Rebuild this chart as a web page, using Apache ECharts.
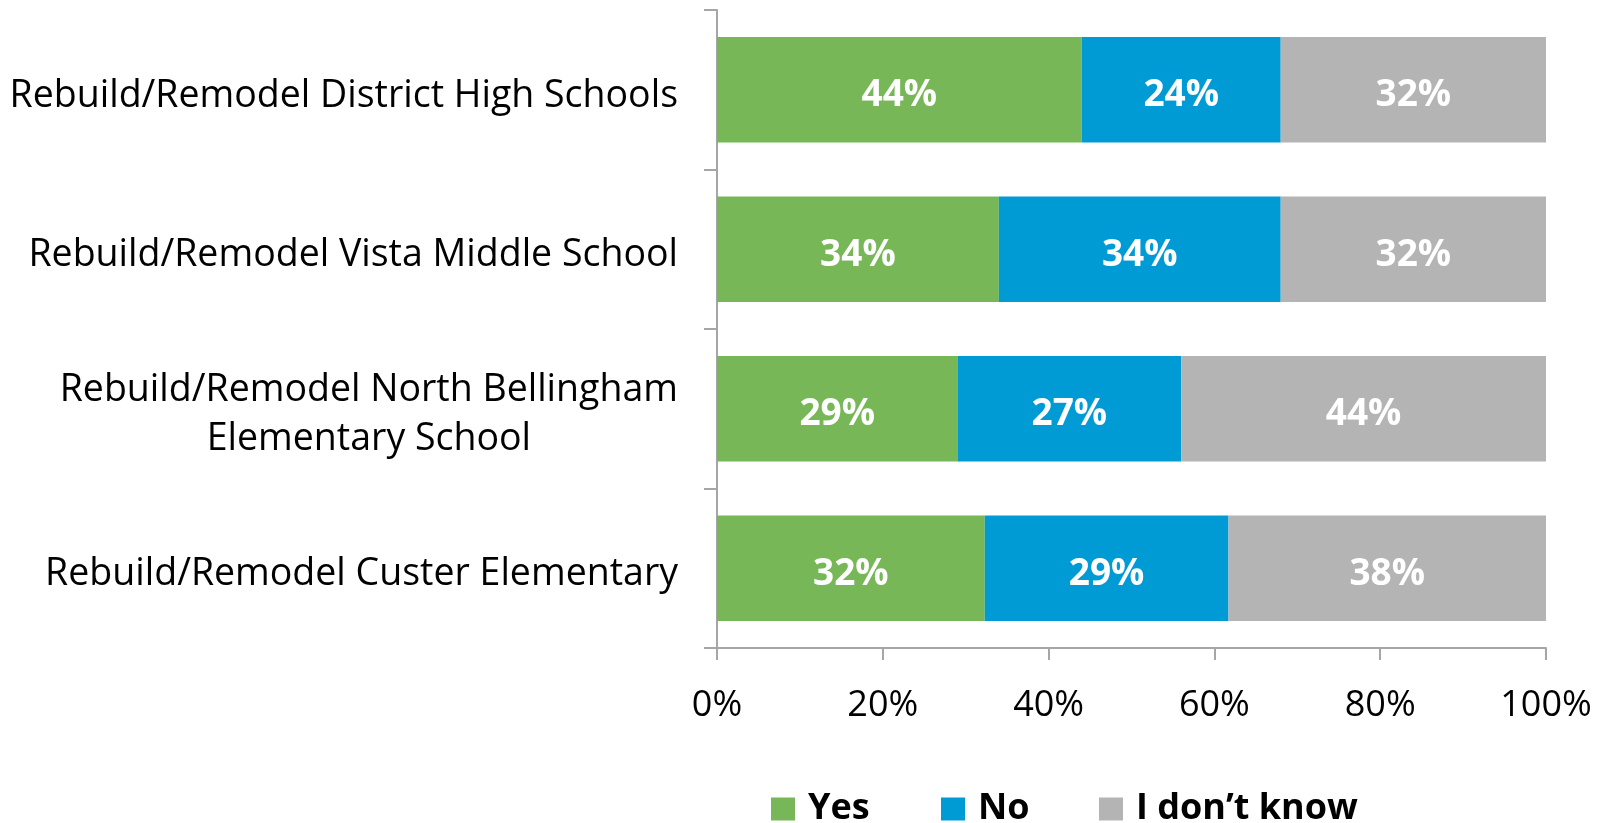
<!DOCTYPE html>
<html>
<head>
<meta charset="utf-8">
<script src="https://cdn.jsdelivr.net/npm/echarts@6/dist/echarts.min.js"></script>
<style>html,body{margin:0;padding:0;background:#fff}#c{width:1605px;height:823px}</style>
</head>
<body>
<div id="c"></div>
<script>
var categories = [
  'Rebuild/Remodel District High Schools',
  'Rebuild/Remodel Vista Middle School',
  'Rebuild/Remodel North Bellingham\nElementary School',
  'Rebuild/Remodel Custer Elementary'
];
var seriesNames = ['Yes', 'No', 'I don\u2019t know'];
var yesValues = [44, 34, 29, 32.3];
var noValues = [24, 34, 27, 29.4];
var dontKnowValues = [32, 32, 44, 38.3];
var xTicks = [0, 20, 40, 60, 80, 100];

var colors = ['#77b757', '#009bd5', '#b4b4b4'];
var FONT = '"Open Sans"';
var catSize = 37.5;

var cv = document.createElement('canvas').getContext('2d');
cv.font = catSize + 'px "Open Sans"';

var chart = echarts.init(document.getElementById('c'));

function catFormatter(v) {
  var parts = v.split('\n');
  if (parts.length < 2) return v;
  return parts[0] + '\n{c|' + parts[1] + '}';
}
var firstLineW = cv.measureText(categories[2].split('\n')[0]).width;

function mkSeries(name, data, color) {
  return {
    name: name, type: 'bar', stack: 'all', data: data,
    barCategoryGap: '34%',
    itemStyle: { color: color },
    label: {
      show: true, position: 'inside', color: '#fff', offset: [0, 6],
      fontFamily: FONT, fontWeight: 'bold', fontSize: 37,
      formatter: function (p) { return Math.round(p.value) + '%'; }
    }
  };
}

function mkLegend(i, left) {
  return {
    data: [seriesNames[i]], left: left, top: 791, padding: 0,
    itemWidth: 24, itemHeight: 23, icon: 'rect',
    textStyle: { fontFamily: FONT, fontWeight: 'bold', fontSize: 36, lineHeight: 23, color: '#000', padding: [2, 0, 0, 8] }
  };
}

chart.setOption({
  animation: false,
  color: colors,
  grid: { left: 717, right: 59, top: 10, bottom: 175 },
  legend: [mkLegend(0, 771), mkLegend(1, 941), mkLegend(2, 1099)],
  xAxis: {
    type: 'value', min: 0, max: 100, interval: 20,
    axisLine: { show: true, lineStyle: { color: '#a6a6a6', width: 2 } },
    axisTick: { show: true, length: 12, lineStyle: { color: '#a6a6a6', width: 2 } },
    splitLine: { show: false },
    axisLabel: {
      margin: 40, color: '#000', fontFamily: FONT, fontSize: 36,
      formatter: function (v) { return xTicks.indexOf(v) >= 0 ? v + '%' : ''; }
    }
  },
  yAxis: {
    type: 'category', data: categories, inverse: true,
    axisLine: { show: true, lineStyle: { color: '#a6a6a6', width: 2 } },
    axisTick: { show: true, length: 13, lineStyle: { color: '#a6a6a6', width: 2 } },
    axisLabel: {
      margin: 39, color: '#000', fontFamily: FONT, fontSize: catSize, lineHeight: 49,
      align: 'right', padding: [13, 0, 0, 0],
      formatter: catFormatter,
      rich: { c: { width: firstLineW, align: 'center', fontFamily: FONT, fontSize: catSize, lineHeight: 49, color: '#000' } }
    }
  },
  series: [
    mkSeries(seriesNames[0], yesValues, colors[0]),
    mkSeries(seriesNames[1], noValues, colors[1]),
    mkSeries(seriesNames[2], dontKnowValues, colors[2])
  ]
});
</script>
</body>
</html>
